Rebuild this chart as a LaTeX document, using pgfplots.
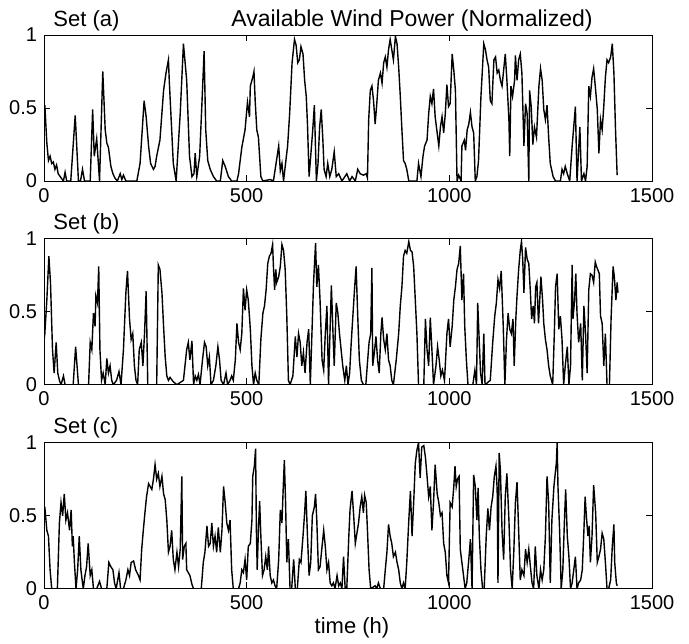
\documentclass[border=0pt]{standalone}
\usepackage{fontspec}
\setmainfont{Liberation Sans}
\usepackage{pgfplots}
\pgfplotsset{compat=1.18}
\pgfplotsset{panel/.style={
  width=304pt, height=73pt, scale only axis,
  xmin=0, xmax=1500, ymin=0, ymax=1,
  xtick={0,500,1000,1500}, ytick={0,0.5,1},
  tick align=inside, tick pos=both, major tick length=3.2pt,
  axis line style={line width=0.5pt},
  every tick/.style={black, line width=0.5pt},
  ticklabel style={font=\fontsize{10}{11}\selectfont},
  /pgf/number format/assume math mode=true,
  /pgf/number format/1000 sep={},
  anchor=south west,
}}
\begin{document}
\begin{tikzpicture}
\path[use as bounding box] (0,0) rectangle (344.5pt,-321.5pt);
\begin{axis}[panel, at={(22pt,-90.5pt)}]
\addplot[black, line width=0.7pt] coordinates {(0,0.47) (2,0.52) (7,0.26) (11,0.14) (15,0.17) (19,0.12) (23,0.13) (27,0.08) (31,0.11) (35,0.05) (40,0.03) (48,0) (52,0.06) (56,0) (66,0) (77,0.45) (85,0) (90,0) (95,0.08) (100,0) (114,0) (120,0.49) (124,0.17) (130,0.29) (137,0) (145,0.75) (151,0.35) (155,0.26) (159,0.23) (165,0.10) (170,0.05) (175,0.02) (181,0) (188,0.05) (192,0.01) (196,0.04) (202,0) (229,0) (237,0.12) (247,0.55) (252,0.44) (258,0.24) (263,0.12) (270,0.08) (274,0.10) (278,0.17) (286,0.28) (295,0.62) (301,0.74) (307,0.83) (309,0.69) (315,0.35) (319,0.12) (326,0) (336,0.46) (344,0.94) (352,0.69) (359,0.17) (365,0.03) (370,0.05) (373,0.19) (377,0.03) (384,0.17) (389,0.49) (395,0.89) (399,0.35) (404,0.14) (410,0.08) (418,0.03) (426,0) (435,0) (441,0.14) (447,0.10) (455,0.03) (463,0) (476,0) (480,0.05) (488,0.23) (496,0.35) (502,0.54) (507,0.44) (509,0.65) (515,0.71) (518,0.75) (521,0.55) (525,0.35) (529,0.30) (535,0.03) (540,0) (558,0.01) (566,0) (579,0.24) (583,0.07) (587,0.12) (591,0) (598,0.17) (601,0.24) (606,0.46) (612,0.81) (618,0.97) (622,0.93) (626,0.81) (630,0.83) (634,0.92) (639,0.87) (643,0.69) (647,0.58) (650,0.39) (654,0.03) (658,0.17) (663,0.35) (667,0.52) (672,0) (676,0.12) (680,0.37) (684,0.49) (688,0.28) (691,0.08) (696,0.03) (700,0.12) (705,0.03) (710,0.08) (716,0.20) (721,0.03) (727,0.05) (735,0) (747,0.05) (754,0) (760,0.03) (768,0) (774,0.08) (780,0.05) (788,0.04) (795,0.05) (798,0.02) (801,0.42) (805,0.62) (809,0.65) (813,0.55) (817,0.39) (821,0.53) (825,0.69) (830,0.74) (834,0.67) (838,0.81) (842,0.85) (846,0.78) (850,0.90) (854,0.97) (858,0.90) (862,0.83) (867,0.99) (871,0.94) (875,0.78) (879,0.58) (883,0.35) (887,0.14) (891,0.12) (895,0.08) (900,0) (920,0) (924,0.12) (930,0.03) (935,0.17) (939,0.24) (945,0.28) (949,0.46) (953,0.58) (957,0.53) (961,0.63) (965,0.44) (970,0.33) (974,0.24) (978,0.37) (982,0.44) (986,0.33) (990,0.46) (994,0.66) (998,0.51) (1002,0.53) (1007,0.87) (1011,0.76) (1015,0.62) (1019,0) (1023,0.04) (1029,0) (1031,0.24) (1037,0.28) (1040,0.21) (1044,0.35) (1048,0.39) (1052,0.47) (1056,0.37) (1060,0.33) (1064,0) (1068,0.03) (1072,0.14) (1078,0.58) (1085,0.94) (1089,0.90) (1093,0.83) (1097,0.78) (1101,0.55) (1105,0.53) (1110,0.83) (1114,0.85) (1118,0.74) (1122,0.76) (1126,0.69) (1130,0.65) (1134,0.76) (1138,0.87) (1142,0.69) (1147,0.42) (1149,0.17) (1152,0.65) (1156,0.58) (1161,0.69) (1163,0.86) (1167,0.69) (1171,0.83) (1175,0.87) (1179,0.74) (1184,0.24) (1188,0.53) (1192,0.46) (1196,0) (1198,0.62) (1202,0.51) (1206,0.25) (1210,0.37) (1215,0.30) (1221,0.65) (1225,0.77) (1229,0.69) (1233,0.49) (1237,0.42) (1241,0.52) (1245,0.30) (1249,0.12) (1256,0.03) (1262,0) (1274,0) (1278,0.08) (1282,0.05) (1286,0.10) (1291,0.05) (1297,0) (1303,0.24) (1311,0.51) (1315,0) (1322,0.37) (1326,0) (1332,0.05) (1336,0) (1340,0.10) (1344,0.65) (1348,0.58) (1352,0.71) (1356,0.77) (1361,0.62) (1365,0.49) (1369,0.19) (1373,0.42) (1377,0.35) (1381,0.51) (1385,0.71) (1389,0.83) (1393,0.81) (1398,0.85) (1402,0.94) (1406,0.74) (1410,0.35) (1414,0.04)};
\end{axis}
\begin{axis}[panel, at={(22pt,-192.35pt)}]
\addplot[black, line width=0.7pt] coordinates {(0,0.30) (2,0.35) (7,0.58) (12,0.88) (16,0.70) (21,0.24) (25,0.08) (30,0.29) (34,0.08) (38,0.03) (42,0) (48,0.06) (52,0) (72,0) (78,0.26) (85,0) (110,0) (114,0.29) (118,0.24) (122,0.49) (126,0.40) (128,0.61) (132,0.56) (135,0.81) (138,0.24) (142,0.03) (146,0.08) (151,0) (155,0.18) (159,0.08) (163,0.13) (167,0.03) (171,0) (179,0.03) (185,0.09) (190,0) (196,0.24) (202,0.63) (206,0.78) (211,0.45) (215,0.31) (219,0.35) (223,0.13) (227,0.03) (231,0) (235,0.24) (240,0.29) (244,0.13) (248,0.35) (252,0.64) (256,0) (278,0) (282,0.82) (286,0.79) (291,0.63) (295,0.40) (299,0.19) (303,0.06) (307,0.03) (311,0.05) (319,0.02) (328,0) (344,0.03) (352,0.24) (356,0.29) (360,0.17) (365,0.30) (369,0) (373,0.06) (377,0.03) (381,0.07) (385,0) (391,0.17) (396,0.29) (400,0.26) (404,0.13) (408,0.19) (412,0) (418,0.03) (424,0.13) (429,0.26) (433,0.17) (437,0.03) (443,0) (449,0.08) (453,0) (459,0.03) (463,0.06) (467,0.03) (472,0.17) (476,0.42) (480,0.29) (484,0.24) (488,0.35) (492,0.66) (496,0.51) (500,0.65) (504,0.58) (509,0.38) (513,0.13) (517,0) (521,0.08) (525,0.03) (530,0) (535,0.31) (540,0.49) (544,0.54) (548,0.65) (552,0.83) (556,0.88) (560,0.90) (564,0.96) (566,0.81) (569,0.65) (572,0.79) (574,0.70) (579,0.74) (583,0.81) (587,0.96) (591,0.92) (595,0.79) (599,0.47) (603,0.03) (607,0) (614,0.06) (620,0.33) (624,0.19) (628,0.35) (632,0.29) (636,0.13) (640,0.22) (644,0.08) (649,0.29) (653,0.38) (657,0) (661,0.35) (665,0.70) (670,0.97) (673,0.67) (677,0.82) (681,0.58) (686,0.17) (690,0.10) (694,0.35) (698,0.54) (702,0) (706,0.40) (709,0.68) (713,0.35) (716,0.13) (721,0.56) (725,0.49) (729,0.35) (733,0.24) (737,0.13) (742,0.03) (746,0.13) (750,0) (754,0.08) (758,0.29) (762,0.47) (766,0.65) (770,0.81) (774,0.47) (778,0.17) (783,0.03) (788,0) (794,0) (798,0.15) (802,0.29) (806,0.35) (809,0.80) (811,0.13) (815,0.22) (819,0.33) (823,0.17) (827,0.08) (831,0.35) (834,0.46) (838,0.31) (842,0.24) (846,0.35) (850,0.17) (854,0.13) (858,0.03) (862,0) (869,0.17) (875,0.35) (879,0.54) (883,0.67) (887,0.88) (891,0.92) (895,0.90) (900,0.98) (904,0.92) (908,0.91) (912,0.81) (916,0.58) (920,0.35) (924,0) (937,0) (941,0.45) (945,0.24) (949,0.13) (953,0.46) (957,0.24) (961,0) (967,0.13) (971,0.26) (975,0.17) (979,0.06) (983,0.10) (988,0.03) (990,0.13) (994,0.35) (998,0.45) (1002,0.26) (1007,0.40) (1011,0.58) (1015,0.67) (1019,0.79) (1023,0.83) (1027,0.95) (1031,0.58) (1035,0.76) (1038,0.40) (1042,0.17) (1046,0) (1058,0) (1063,0.10) (1067,0) (1070,0.56) (1073,0.35) (1077,0.08) (1081,0) (1085,0.35) (1088,0) (1101,0.03) (1107,0.29) (1112,0.47) (1116,0.56) (1120,0.72) (1124,0.66) (1128,0.78) (1133,0.40) (1137,0) (1141,0.31) (1145,0.49) (1149,0.38) (1153,0.35) (1157,0.45) (1160,0.13) (1164,0.45) (1167,0.61) (1171,0.79) (1175,0.92) (1178,0.98) (1181,0.86) (1184,0.63) (1188,0.94) (1192,0.86) (1196,0.83) (1200,0.63) (1203,0.45) (1207,0.54) (1210,0.42) (1213,0.67) (1216,0.70) (1220,0.42) (1223,0.58) (1226,0.74) (1230,0.58) (1233,0.42) (1237,0.31) (1241,0.24) (1245,0.13) (1249,0.06) (1255,0) (1259,0.35) (1262,0.67) (1266,0.76) (1270,0.38) (1274,0.47) (1278,0.31) (1282,0) (1286,0.13) (1291,0.26) (1295,0) (1299,0.13) (1303,0.82) (1305,0.45) (1309,0.58) (1312,0.76) (1315,0.49) (1319,0.29) (1324,0.42) (1328,0.03) (1332,0.54) (1336,0.35) (1340,0.08) (1344,0.65) (1348,0.76) (1352,0.75) (1356,0.70) (1360,0.84) (1363,0.81) (1366,0.79) (1370,0.76) (1373,0.47) (1377,0.42) (1381,0.13) (1385,0.35) (1389,0) (1395,0) (1399,0.45) (1404,0.81) (1407,0.74) (1411,0.58) (1414,0.70) (1416,0.63)};
\end{axis}
\begin{axis}[panel, at={(22pt,-294.35pt)}]
\addplot[black, line width=0.7pt] coordinates {(0,0.50) (2,0.56) (7,0.40) (11,0.36) (15,0.13) (19,0) (33,0) (38,0.45) (42,0.59) (46,0.50) (50,0.65) (54,0.47) (58,0.52) (63,0.40) (67,0.54) (70,0.29) (72,0.36) (75,0.18) (79,0) (83,0.13) (87,0.36) (91,0.13) (95,0.04) (97,0) (101,0.09) (105,0.15) (109,0.31) (114,0.09) (118,0.13) (122,0) (130,0) (137,0.05) (142,0) (155,0) (160,0.18) (165,0.15) (170,0.13) (174,0.04) (178,0) (185,0.11) (189,0) (196,0) (202,0.06) (207,0.13) (211,0.09) (215,0.18) (221,0.19) (226,0.13) (233,0.09) (237,0.06) (241,0.27) (245,0.40) (249,0.52) (253,0.63) (258,0.72) (262,0.70) (266,0.68) (270,0.75) (274,0.85) (278,0.75) (282,0.79) (286,0.70) (291,0.77) (295,0.65) (299,0.61) (303,0.47) (307,0.25) (311,0.29) (315,0.40) (319,0.20) (323,0.13) (328,0.25) (332,0.15) (336,0.27) (340,0.77) (342,0.20) (346,0.29) (350,0.31) (352,0.13) (356,0.11) (360,0.09) (365,0.03) (369,0) (388,0) (393,0.18) (397,0.25) (402,0.43) (406,0.29) (410,0.31) (414,0.45) (418,0.29) (422,0.36) (426,0.25) (430,0.42) (435,0.25) (439,0.40) (443,0.70) (447,0.59) (451,0.45) (455,0.40) (459,0.47) (463,0.13) (467,0) (480,0) (484,0.04) (488,0.13) (492,0.11) (496,0.20) (500,0.06) (504,0.29) (509,0.31) (513,0.47) (515,0.77) (519,0.84) (522,0.96) (524,0.40) (526,0.13) (529,0.40) (532,0.60) (535,0.36) (539,0.09) (543,0.13) (547,0.22) (551,0.13) (554,0.29) (558,0.09) (562,0.04) (566,0.06) (570,0.02) (574,0) (579,0.20) (583,0.54) (587,0.45) (591,0.75) (593,0.88) (596,0.59) (599,0.18) (603,0.34) (607,0) (611,0) (616,0.20) (620,0) (625,0) (630,0.20) (634,0.18) (639,0.36) (643,0.52) (646,0.67) (650,0.36) (654,0.09) (658,0.18) (662,0.50) (667,0.56) (670,0.65) (673,0.47) (677,0.13) (681,0.15) (686,0.29) (690,0.40) (694,0.29) (698,0.13) (702,0.18) (706,0.04) (710,0.02) (714,0.04) (718,0) (723,0.09) (727,0.02) (731,0.04) (735,0) (739,0.22) (743,0) (747,0) (752,0.36) (755,0.54) (760,0.67) (764,0.50) (768,0.31) (772,0.38) (776,0.45) (780,0.56) (784,0.63) (788,0.52) (791,0.64) (795,0.59) (798,0.40) (802,0.13) (806,0) (817,0.02) (821,0) (825,0.04) (830,0) (838,0) (842,0.13) (846,0.25) (850,0.44) (854,0.36) (858,0.31) (862,0.22) (867,0.25) (871,0.18) (875,0.13) (879,0.04) (883,0) (887,0.04) (891,0) (895,0.18) (900,0.47) (904,0.67) (908,0.36) (912,0.59) (916,0.86) (920,0.95) (924,1.0) (928,0.76) (932,0.97) (937,0.98) (941,0.90) (945,0.77) (949,0.63) (953,0.70) (957,0.40) (961,0.59) (965,0.85) (970,0.65) (974,0.59) (978,0.50) (982,0.52) (986,0.31) (990,0.25) (994,0.09) (998,0.04) (1002,0.59) (1007,0.56) (1011,0.70) (1014,0.84) (1017,0.70) (1020,0.75) (1024,0.77) (1027,0.27) (1031,0.18) (1035,0.09) (1039,0) (1043,0.04) (1048,0.20) (1052,0.34) (1056,0) (1060,0.78) (1064,0.70) (1068,0.47) (1071,0.69) (1074,0.36) (1078,0.13) (1082,0) (1086,0) (1091,0.36) (1095,0.55) (1099,0.40) (1103,0.56) (1107,0.63) (1111,0.77) (1115,0.84) (1118,0.68) (1120,0.04) (1123,0.93) (1126,0.81) (1130,0.40) (1134,0.20) (1138,0.63) (1142,0.79) (1147,0.47) (1151,0.13) (1155,0) (1159,0.25) (1163,0.59) (1167,0.73) (1171,0.40) (1175,0.06) (1179,0.13) (1184,0.09) (1188,0.27) (1192,0.18) (1196,0.27) (1200,0.15) (1204,0.04) (1208,0) (1212,0.29) (1216,0.09) (1221,0) (1225,0.13) (1229,0.06) (1233,0.13) (1237,0.36) (1241,0.77) (1245,0.59) (1249,0.04) (1253,0.47) (1258,0.70) (1262,0.81) (1264,0.86) (1266,1.0) (1268,0.70) (1272,0.40) (1276,0) (1280,0.13) (1284,0.47) (1287,0.68) (1291,0.36) (1295,0.22) (1299,0) (1303,0.04) (1307,0.13) (1311,0.22) (1315,0) (1319,0.04) (1324,0.06) (1328,0.13) (1332,0.40) (1335,0.63) (1338,0.50) (1342,0.36) (1345,0.43) (1348,0.18) (1352,0.36) (1356,0.71) (1361,0.52) (1365,0.18) (1369,0.22) (1373,0.27) (1377,0.38) (1381,0.34) (1385,0.18) (1389,0) (1393,0) (1398,0.06) (1402,0.29) (1406,0.44) (1408,0.18) (1412,0.04) (1414,0.02)};
\end{axis}
\node[anchor=base west, font=\fontsize{11}{13}\selectfont, inner sep=0pt] at (26.5pt,-13pt) {Set (a)};
\node[anchor=base, font=\fontsize{11.5}{13}\selectfont, inner sep=0pt] at (206pt,-13pt) {Available Wind Power (Normalized)};
\node[anchor=base west, font=\fontsize{11}{13}\selectfont, inner sep=0pt] at (26.5pt,-114.5pt) {Set (b)};
\node[anchor=base west, font=\fontsize{11}{13}\selectfont, inner sep=0pt] at (26.5pt,-216.5pt) {Set (c)};
\node[anchor=base, font=\fontsize{11}{13}\selectfont, inner sep=0pt] at (176pt,-316.5pt) {time (h)};
\end{tikzpicture}
\end{document}
